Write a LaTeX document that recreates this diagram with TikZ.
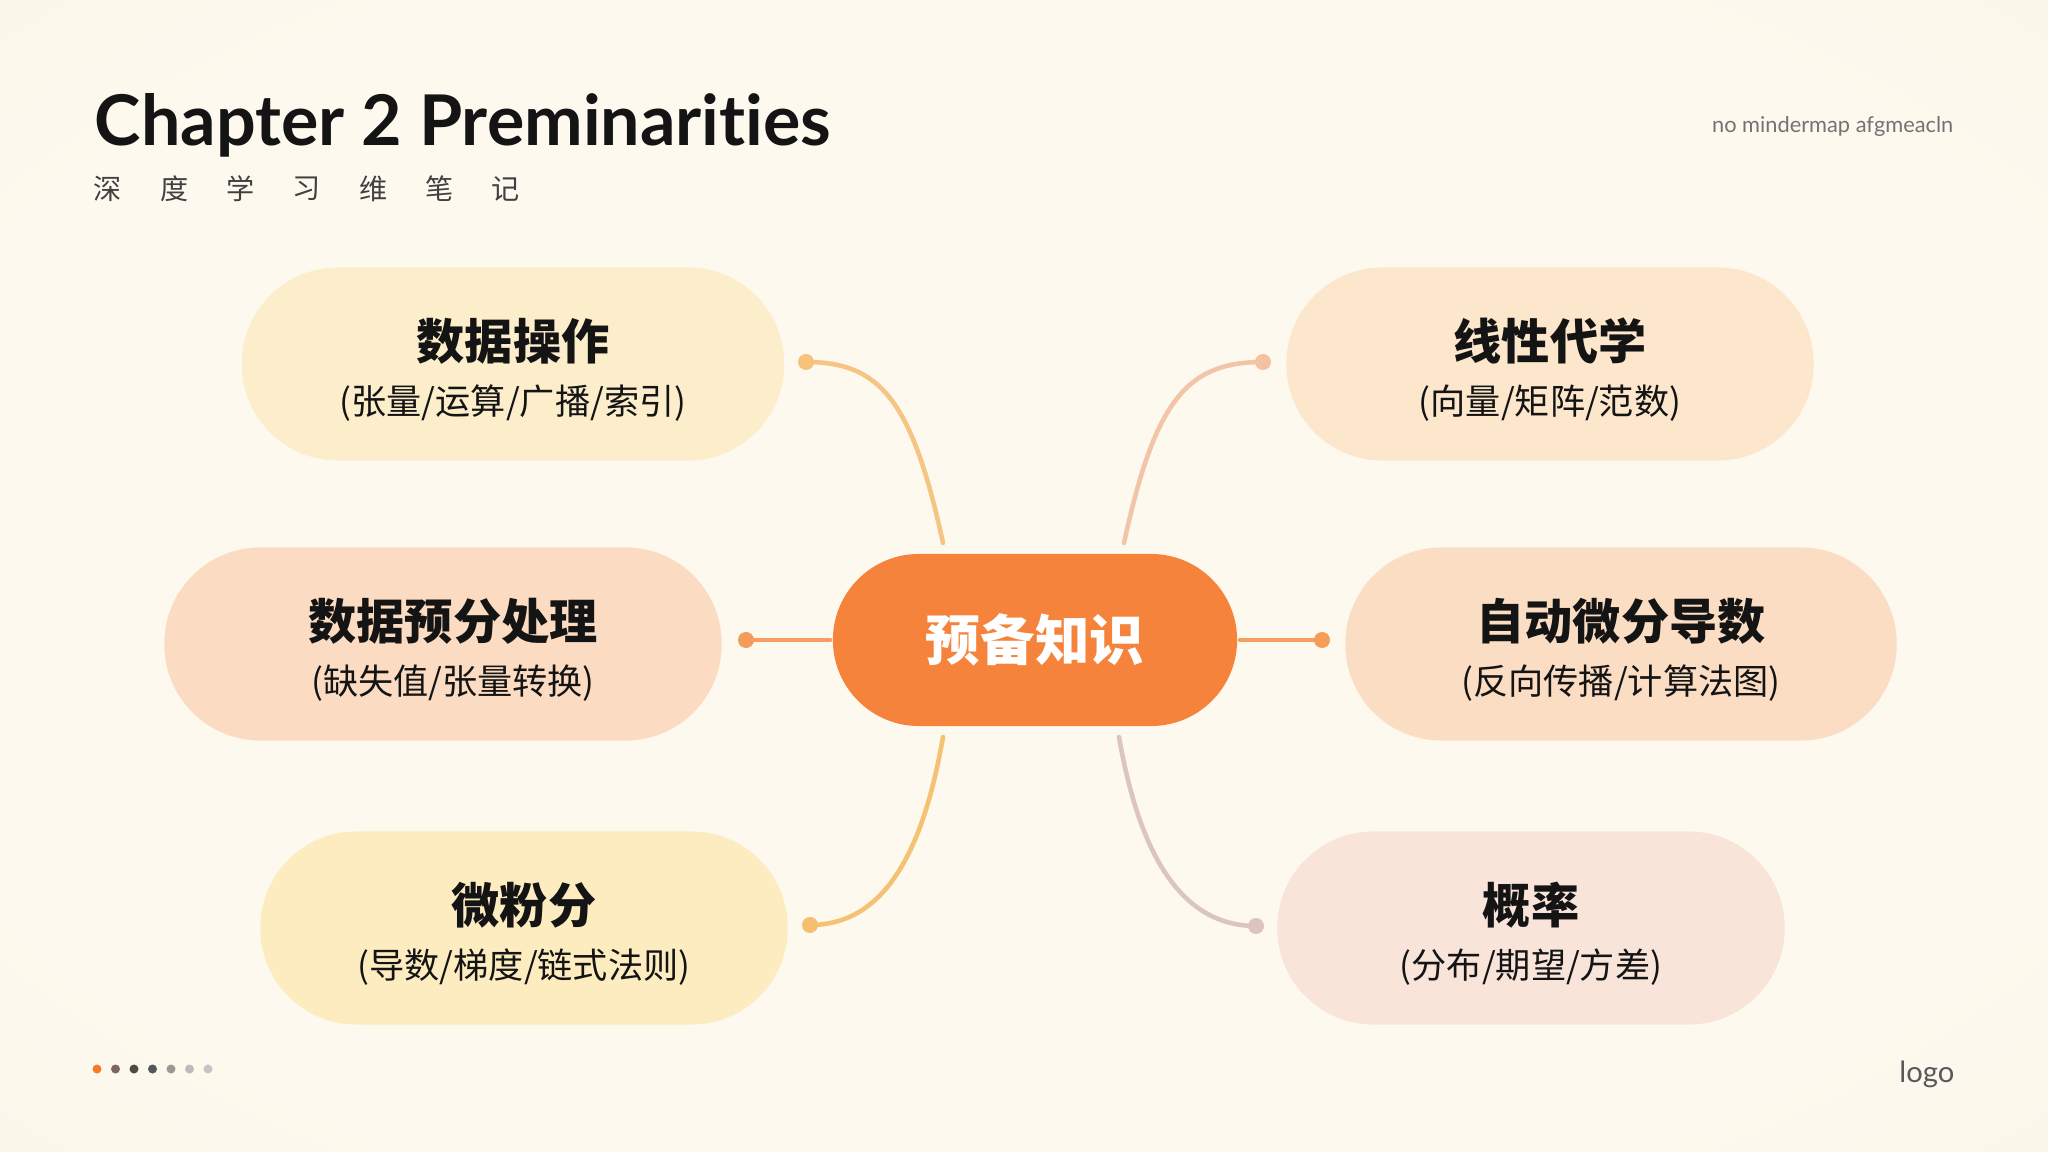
\documentclass[tikz,border=0pt]{standalone}
\usepackage{fontspec}
\setmainfont{Lato}
\newfontfamily\cjk{Noto Sans CJK SC}
\newfontfamily\headfont{Lato}[Ligatures=NoCommon]
\usepackage{tikz}
\usepackage{xcolor}
\definecolor{bgin}{HTML}{FDF9EE}
\definecolor{bgout}{HTML}{F8EEDC}
\definecolor{ink}{HTML}{141414}
\definecolor{hubcolor}{HTML}{F5833B}
\definecolor{pillA}{HTML}{FCEECB}
\definecolor{pillB}{HTML}{FCE6CC}
\definecolor{pillC}{HTML}{FBDCC2}
\definecolor{pillD}{HTML}{FBDDC3}
\definecolor{pillE}{HTML}{FCECC0}
\definecolor{pillF}{HTML}{F9E4DA}
\definecolor{twigA}{HTML}{F6C583}
\definecolor{twigB}{HTML}{F3C5A8}
\definecolor{twigC}{HTML}{F59E62}
\definecolor{twigE}{HTML}{F5C274}
\definecolor{twigF}{HTML}{DCC5C0}
\newcommand{\pilltext}[2]{{\fontsize{13.7pt}{15.6pt}\selectfont\bfseries\rule{0pt}{0.53cm}#1}\\{#2}}
\pgfdeclareradialshading{bgglow}{\pgfpoint{0bp}{0bp}}{color(0bp)=(bgin); color(28bp)=(bgin); color(72bp)=(bgout)}

\begin{document}
\begin{tikzpicture}[x=0.01cm, y=-0.01cm,
    pill/.style={rectangle, rounded corners=0.96cm, minimum height=1.93cm, inner sep=0pt,
        align=center, text=ink, font=\cjk\fontsize{10pt}{15.6pt}\selectfont},
    hubbox/.style={rectangle, rounded corners=0.86cm, minimum width=4.04cm, minimum height=1.72cm,
        fill=hubcolor, text=white, font=\cjk\bfseries\fontsize{15.5pt}{18pt}\selectfont},
    knot/.style={circle, inner sep=0pt, minimum size=0.16cm},
    twig/.style={line width=1.3pt, line cap=round}]
    \useasboundingbox (0,0) rectangle (2048,1152);
    \shade[shading=bgglow] (0,0) rectangle (2048,1152);

    % heading
    \node [anchor=base west, inner sep=0pt, text=ink, font=\headfont\bfseries\fontsize{19.9pt}{24pt}\selectfont] (title) at (94,146) {Chapter 2 Preminarities};
    \foreach \ch [count=\i from 0] in {深,度,学,习,维,笔,记}
        \node [inner sep=0pt, text=black!75, font=\cjk\fontsize{8pt}{10pt}\selectfont] (sub\i) at (108+66.3*\i,189) {\ch};
    \node [anchor=base east, inner sep=0pt, text=black!55, font=\fontsize{6.2pt}{8pt}\selectfont] (tag) at (1954,133) {no mindermap afgmeacln};

    % centre and branches
    \node [hubbox] (hub) at (1035,640) {预备知识};
    \node [pill, fill=pillA, minimum width=5.42cm] (ops) at (513,364) {\pilltext{数据操作}{(张量/运算/广播/索引)}};
    \node [pill, fill=pillB, minimum width=5.27cm] (linalg) at (1550,364) {\pilltext{线性代学}{(向量/矩阵/范数)}};
    \node [pill, fill=pillC, minimum width=5.57cm] (prep) at (443,644) {\pilltext{\hspace*{0.2cm}数据预分处理}{\hspace*{0.2cm}(缺失值/张量转换)}};
    \node [pill, fill=pillD, minimum width=5.51cm] (autograd) at (1621,644) {\pilltext{自动微分导数}{(反向传播/计算法图)}};
    \node [pill, fill=pillE, minimum width=5.27cm] (calc) at (524,928) {\pilltext{微粉分}{(导数/梯度/链式法则)}};
    \node [pill, fill=pillF, minimum width=5.07cm] (prob) at (1531,928) {\pilltext{概率}{(分布/期望/方差)}};

    % junctions
    \coordinate (jA) at (943,543);
    \coordinate (jB) at (1124,543);
    \coordinate (jC) at (830,640);
    \coordinate (jD) at (1240,640);
    \coordinate (jE) at (943,737);
    \coordinate (jF) at (1119,737);

    % connectors
    \draw [twig, twigA] (jA) .. controls +(-31,-143) and +(74,0) .. (806,362) coordinate (eA);
    \draw [twig, twigB] (jB) .. controls +(31,-143) and +(-76,0) .. (1263,362) coordinate (eB);
    \draw [twig, twigC] (jC) -- (746,640) coordinate (eC);
    \draw [twig, twigC] (jD) -- (1322,640) coordinate (eD);
    \draw [twig, twigE] (jE) .. controls +(-18,103) and +(80,0) .. (810,925) coordinate (eE);
    \draw [twig, twigF] (jF) .. controls +(18,103) and +(-82,0) .. (1256,926) coordinate (eF);
    \node [knot, fill=twigA!95!orange] (dotA) at (eA) {};
    \node [knot, fill=twigB!95!orange] (dotB) at (eB) {};
    \node [knot, fill=twigC!92!orange] (dotC) at (eC) {};
    \node [knot, fill=twigC!92!orange] (dotD) at (eD) {};
    \node [knot, fill=twigE!95!orange] (dotE) at (eE) {};
    \node [knot, fill=twigF] (dotF) at (eF) {};

    % pager and logo
    \foreach \c [count=\i from 0] in {F57A2A,7A6A5E,4E4A46,55565A,9A9894,BDBBBA,C5C5C8} {
        \definecolor{pagedot}{HTML}{\c}
        \fill [pagedot] (97+18.5*\i,1069) circle (0.045cm);
    }
    \node [anchor=base east, inner sep=0pt, text=black!65, font=\fontsize{8.3pt}{10pt}\selectfont] (logo) at (1955,1082) {logo};
\end{tikzpicture}
\end{document}
